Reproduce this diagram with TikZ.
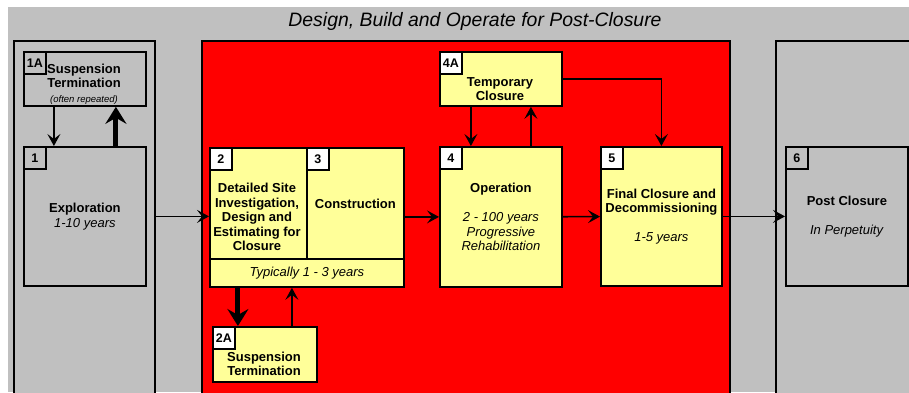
\documentclass[tikz,border=0pt]{standalone}
\usepackage{fontspec}
\setmainfont{Liberation Sans}
\usetikzlibrary{arrows.meta,positioning}
\definecolor{pale}{HTML}{FFFF99}
\definecolor{panelgray}{HTML}{C0C0C0}

\begin{document}
\begin{tikzpicture}[x=1pt, y=-1pt, >={Stealth[length=12pt,width=13pt,inset=5pt]},
  panel/.style={draw, line width=1.7pt, anchor=north west, inner sep=0pt, minimum height=360pt},
  box/.style={draw, line width=1.8pt, fill=pale, anchor=north west, inner sep=0pt},
  graybox/.style={box, fill=panelgray},
  tag/.style={draw, line width=1.6pt, anchor=north west, minimum size=22pt, inner sep=0pt, font=\bfseries\fontsize{12.5}{14}\selectfont},
  txt/.style={align=center, inner sep=0pt, font=\fontsize{13}{14.5}\selectfont},
  boldtxt/.style={txt, font=\bfseries\fontsize{13}{14.5}\selectfont},
  thin/.style={->, line width=1.6pt},
  fat/.style={-{Stealth[length=17pt,width=21pt,inset=6pt]}, line width=5pt}]
\clip (0,0) rectangle (909,392);
\fill[white] (0,0) rectangle (909,392);
\fill[panelgray] (8,7) rectangle (909,392);
\node[txt, font=\itshape\fontsize{19.4}{21}\selectfont] (title) at (475,21) {Design, Build and Operate for Post-Closure};

% the three phases
\node[panel, fill=panelgray, minimum width=141pt] (pleft) at (13,40) {};
\node[panel, fill=red, minimum width=528pt] (pmid) at (201,40) {};
\node[panel, fill=panelgray, minimum width=140pt] (pright) at (775,40) {};

% stages
\node[graybox, minimum width=122pt, minimum height=54pt] (s1a) at (23,51) {};
\node[graybox, minimum width=122pt, minimum height=139pt] (s1) at (23,146) {};
\node[box, minimum width=97pt, minimum height=111pt] (s2) at (209,147) {};
\node[box, minimum width=97pt, minimum height=111pt] (s3) at (306,147) {};
\node[box, minimum width=194pt, minimum height=28pt] (bar) at (209,258) {};
\node[box, minimum width=104pt, minimum height=55pt] (s2a) at (212,326) {};
\node[box, minimum width=122pt, minimum height=54pt] (s4a) at (439,51) {};
\node[box, minimum width=122pt, minimum height=140pt] (s4) at (439,146) {};
\node[box, minimum width=121pt, minimum height=139pt] (s5) at (600,146) {};
\node[graybox, minimum width=122pt, minimum height=139pt] (s6) at (785,146) {};

\foreach \n/\t/\c in {s1a/1A/panelgray, s1/1/panelgray, s2/2/white, s3/3/white, s2a/2A/white,
                      s4a/4A/white, s4/4/white, s5/5/white, s6/6/panelgray}
  \node[tag, fill=\c] (\n-tag) at (\n.north west) {\t};

\node[txt] (t1a) at (84,84) {\textbf{Suspension}\\\textbf{Termination}\\{\itshape\fontsize{9.5}{11}\selectfont (often repeated)}};
\node[txt] (t1) at (s1) {\textbf{Exploration}\\\textit{1-10 years}};
\node[boldtxt] (t2) at (257,217) {Detailed Site\\Investigation,\\Design and\\Estimating for\\Closure};
\node[boldtxt] (t3) at (s3) {Construction};
\node[txt] (tbar) at (bar) {\itshape Typically 1 - 3 years};
\node[boldtxt] (t2a) at (264,364) {Suspension\\Termination};
\node[boldtxt] (t4a) at (500,89) {Temporary\\Closure};
\node[txt] (t4) at (s4) {\textbf{Operation}\\[14.5pt]\textit{2 - 100 years}\\\textit{Progressive}\\\textit{Rehabilitation}};
\node[txt] (t5) at (s5) {\textbf{Final Closure and}\\\textbf{Decommissioning}\\[14.5pt]\textit{1-5 years}};
\node[txt] (t6) at (s6) {\textbf{Post Closure}\\[14.5pt]\textit{In Perpetuity}};

% flow between stages
\draw[thin] ([xshift=-31pt]s1a.south) -- ([xshift=-31pt]s1.north);
\draw[fat] ([xshift=31pt]s1.north) -- ([xshift=31pt]s1a.south);
\draw[thin] (pleft.east |- s1) -- (s2.west |- s1);
\draw[thin] (s3.east |- s4) -- (s4.west);
\draw[thin] (s4) -- (s5);
\draw[thin] (s5) -- (s6);
\draw[thin] ([xshift=-30pt]s4a.south) -- ([xshift=-30pt]s4.north);
\draw[thin] ([xshift=30pt]s4.north) -- ([xshift=30pt]s4a.south);
\draw[thin] (s4a.east) -| (s5.north);
\draw[fat] ([xshift=-27pt]s2a.north |- bar.south) -- ([xshift=-27pt]s2a.north);
\draw[thin] ([xshift=27pt]s2a.north) -- ([xshift=27pt]s2a.north |- bar.south);
\end{tikzpicture}
\end{document}
